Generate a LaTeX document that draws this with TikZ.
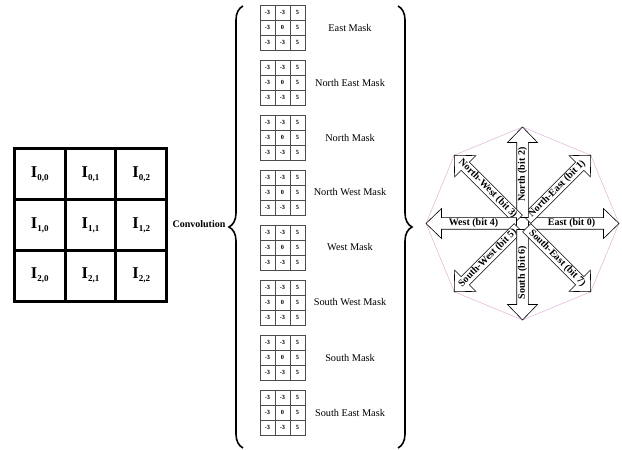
\documentclass[tikz,border=0pt]{standalone}
\usepackage{fontspec}
\setmainfont{Liberation Serif}
\usetikzlibrary{decorations.pathreplacing,calc}

\definecolor{octpink}{RGB}{222,178,214}
\newcommand{\pxlabel}[2]{I\raisebox{-3pt}{\fontsize{9}{9}\selectfont #1,#2}}

\begin{document}
\begin{tikzpicture}[x=1pt,y=1pt,
    pixel/.style={draw,line width=3pt,minimum size=50.7pt,inner sep=0pt,font=\fontsize{16.5}{16.5}\selectfont\bfseries},
    maskcell/.style={draw=black!70,line width=0.5pt,minimum size=15pt,inner sep=0pt,font=\fontsize{6.3}{6.3}\selectfont\bfseries},
    masklabel/.style={font=\fontsize{10.3}{12}\selectfont},
    bigbrace/.style={decorate,decoration={brace,amplitude=14pt},line width=1.6pt},
    dirarrow/.style={draw,fill=white,line width=0.6pt,line join=miter},
    dirtext/.style={font=\fontsize{10}{10}\selectfont\bfseries,inner sep=0pt,transform shape},
    octline/.style={draw=octpink,line width=0.5pt}]
\useasboundingbox (0,0) rectangle (622,450);

% input image
\foreach \r in {0,1,2}
  \foreach \c in {0,1,2}
    \node[pixel] (px\r\c) at ({39.8+50.7*\c},{275.7-50.7*\r}) {\pxlabel{\r}{\c}};
\node[font=\fontsize{10}{12}\selectfont\bfseries] (conv) at (199,226) {Convolution};

% braces
\draw[bigbrace] (243,2) -- (243,444);
\draw[bigbrace] (398,444) -- (398,2);

% the eight masks
\foreach \k/\name in {0/East,1/North East,2/North,3/North West,4/West,5/South West,6/South,7/South East} {
  \foreach \row/\va/\vb/\vc in {0/-3/-3/5,1/-3/0/5,2/-3/-3/5} {
    \node[maskcell] (m\k-\row0) at (267.5,{437.5-55*\k-15*\row}) {\va};
    \node[maskcell] (m\k-\row1) at (282.5,{437.5-55*\k-15*\row}) {\vb};
    \node[maskcell] (m\k-\row2) at (297.5,{437.5-55*\k-15*\row}) {\vc};
  }
  \node[masklabel] (lab\k) at (350,{422.5-55*\k}) {\name\ Mask};
}

% compass
\coordinate (cmp) at (522.5,226.5);
\draw[octline] ($(cmp)+(0:96.5)$) \foreach \a in {45,90,...,315} { -- ($(cmp)+(\a:96.5)$)} -- cycle;
\foreach \a/\txt/\flip in {0/East (bit 0)/0,45/North-East (bit 1)/0,90/North (bit 2)/0,
    135/North-West (bit 3)/180,180/West (bit 4)/180,225/South-West (bit 5)/180,
    270/South (bit 6)/180,315/South-East (bit 7)/0} {
  \begin{scope}[shift={(cmp)},rotate=\a]
    \draw[dirarrow] (6,-5.8) -- (81,-5.8) -- (81,-15) -- (96.5,0) -- (81,15) -- (81,5.8) -- (6,5.8) -- cycle;
    \node[dirtext,rotate=\flip] (d\a) at (49,0) {\txt};
  \end{scope}
}
\end{tikzpicture}
\end{document}
